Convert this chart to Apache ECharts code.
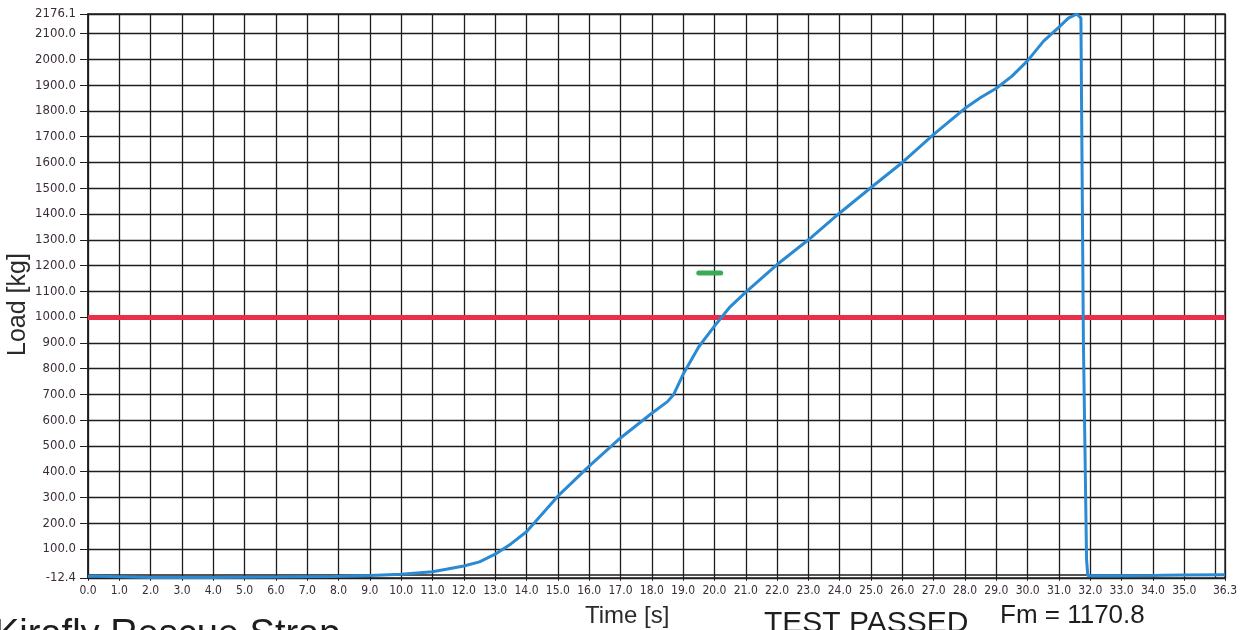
<!DOCTYPE html>
<html>
<head>
<meta charset="utf-8">
<script src="https://cdn.jsdelivr.net/npm/echarts@6/dist/echarts.min.js"></script>
<style>
html,body{margin:0;padding:0;background:#fff;}
#chart{width:1259px;height:630px;}
</style>
</head>
<body>
<div id="chart"></div>
<script>
// ---- data ----
var timeS = [0, 0.3, 0.35, 2, 4, 6, 7.8, 9, 10, 11, 12, 12.5, 13, 13.5, 14, 15, 16, 17, 18, 18.5, 18.7, 19, 19.5, 20, 20.5, 21, 22, 23, 24, 25, 26, 27, 28, 28.5, 29, 29.5, 30, 30.5, 31, 31.3, 31.57, 31.7, 31.78, 31.88, 31.92, 33, 34, 34.3, 35, 36.3];
var loadKg = [-6, -6, -10, -10, -10, -9, -7, -3, 2, 12, 34, 50, 80, 120, 167, 305, 422, 531, 627, 672, 700, 778, 885, 965, 1040, 1097, 1204, 1300, 1404, 1503, 1600, 1709, 1810, 1852, 1888, 1935, 1995, 2070, 2125, 2160, 2176.1, 2160, 900, 60, -4, -4, -3, -2, -1, 0];
var xTicks = [0,1,2,3,4,5,6,7,8,9,10,11,12,13,14,15,16,17,18,19,20,21,22,23,24,25,26,27,28,29,30,31,32,33,34,35,36,36.3];
var yTicks = [-12.4,100,200,300,400,500,600,700,800,900,1000,1100,1200,1300,1400,1500,1600,1700,1800,1900,2000,2100,2176.1];
var xMin = 0, xMax = 36.3, yMin = -12.4, yMax = 2176.1;
var thresholdKg = 1000;
var fmValue = 1170.8;
var fmSpan = [19.5, 20.2];
var titleText = 'Kirafly Rescue Strap';
var resultText = 'TEST PASSED';
var fmText = 'Fm = 1170.8';
var xName = 'Time [s]';
var yName = 'Load [kg]';

var pts = timeS.map(function(t, i){ return [t, loadKg[i]]; });

var chart = echarts.init(document.getElementById('chart'), null, {renderer:'canvas'});
var labelFont = '"DejaVu Sans Condensed", "DejaVu Sans", sans-serif';
var option = {
  animation: false,
  backgroundColor: '#ffffff',
  grid: {left: 88, right: 34, top: 14, bottom: 52, show: true, borderColor: '#1e1e1e', borderWidth: 1.3},
  xAxis: {
    type: 'value', min: xMin, max: xMax,
    axisLine: {show: true, lineStyle: {color: '#1e1e1e', width: 1.5}},
    axisTick: {show: true, customValues: xTicks, length: 6, lineStyle: {color: '#1e1e1e'}},
    axisLabel: {customValues: xTicks, formatter: function(v){ return v.toFixed(1); }, color: '#3a2c3a', fontFamily: labelFont, fontSize: 12, margin: 7, hideOverlap: false, showMaxLabel: true, showMinLabel: true},
    splitLine: {show: true, lineStyle: {color: '#1e1e1e', width: 1.3}}
  },
  yAxis: {
    type: 'value', min: yMin, max: yMax,
    axisLine: {show: true, lineStyle: {color: '#1e1e1e', width: 1.5}},
    axisTick: {show: true, customValues: yTicks, length: 8, lineStyle: {color: '#1e1e1e'}},
    axisLabel: {customValues: yTicks, formatter: function(v){ return v.toFixed(1); }, color: '#3a2c3a', fontFamily: labelFont, fontSize: 13, margin: 12, hideOverlap: false, showMaxLabel: true, showMinLabel: true},
    splitLine: {show: true, lineStyle: {color: '#1e1e1e', width: 1.3}}
  },
  series: [
    {
      type: 'line', data: pts, showSymbol: false, symbol: 'none',
      lineStyle: {color: '#2a8ad4', width: 3}, z: 5,
      markLine: {
        silent: true, symbol: 'none', label: {show: false},
        lineStyle: {color: '#e8304a', width: 5, type: 'solid'},
        data: [{yAxis: thresholdKg}]
      }
    },
    {
      type: 'line', data: [[fmSpan[0], fmValue], [fmSpan[1], fmValue]], showSymbol: false, symbol: 'none',
      lineStyle: {color: '#3caa55', width: 5, cap: 'round'}, z: 6
    }
  ],
  graphic: [
    {type: 'text', rotation: Math.PI/2, x: 6, y: 356,
      style: {text: yName, font: '25px "Liberation Sans", Arial, sans-serif', fill: '#2a2a2a'}},
    {type: 'text', x: 585, y: 604, style: {text: xName, font: '24px "Liberation Sans", Arial, sans-serif', fill: '#2a2a2a'}},
    {type: 'text', x: 764, y: 609, style: {text: resultText, font: '30px "Liberation Sans", Arial, sans-serif', fill: '#1e1e1e'}},
    {type: 'text', x: 1000, y: 603, style: {text: fmText, font: '26px "Liberation Sans", Arial, sans-serif', fill: '#1e1e1e'}},
    {type: 'text', x: -6, y: 617, style: {text: titleText, font: '38px "Liberation Sans", Arial, sans-serif', fill: '#1e1e1e'}}
  ]
};
chart.setOption(option);
</script>
</body>
</html>
